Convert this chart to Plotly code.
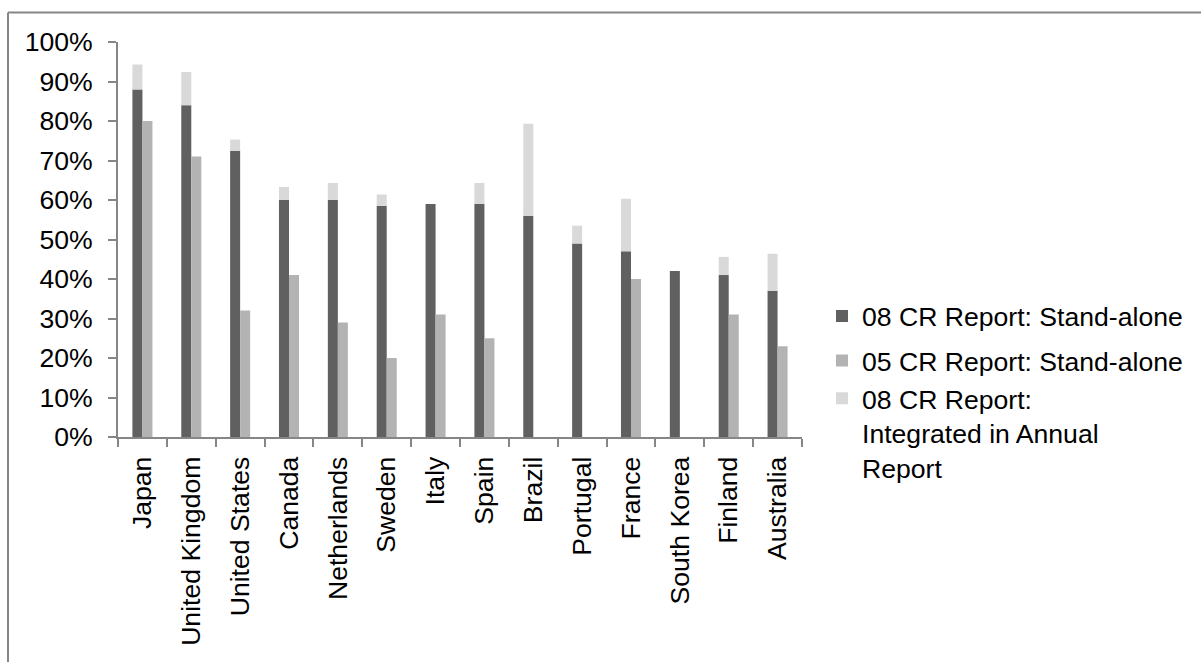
import plotly.graph_objects as go

countries = ["Japan", "United Kingdom", "United States", "Canada", "Netherlands", "Sweden",
             "Italy", "Spain", "Brazil", "Portugal", "France", "South Korea", "Finland", "Australia"]
standalone_08 = [88, 84, 72.5, 60, 60, 58.5, 59, 59, 56, 49, 47, 42, 41, 37]
standalone_05 = [80, 71, 32, 41, 29, 20, 31, 25, 0, 0, 40, 0, 31, 23]
integrated_08 = [6.3, 8.4, 2.8, 3.3, 4.3, 2.9, 0, 5.3, 23.3, 4.5, 13.3, 0, 4.6, 9.4]

DARK = "#606060"
MID = "#b3b3b3"
LIGHT = "#d9d9d9"
AXIS = "#868686"
FONT = "Liberation Sans, Arial, sans-serif"
FS = 26.6

fig = go.Figure()
fig.add_trace(go.Bar(name="08 CR Report: Stand-alone", x=countries, y=standalone_08,
                     marker=dict(color=DARK, line=dict(width=0)), offsetgroup="08",
                     legendgroup="a"))
fig.add_trace(go.Bar(name="05 CR Report: Stand-alone", x=countries, y=standalone_05,
                     marker=dict(color=MID, line=dict(width=0)), offsetgroup="05",
                     legendgroup="b"))
fig.add_trace(go.Bar(name="08 CR Report:<br>Integrated in Annual<br>Report", x=countries,
                     y=integrated_08, base=standalone_08,
                     marker=dict(color=LIGHT, line=dict(width=0)), offsetgroup="08",
                     legendgroup="b"))

W, H = 1201, 662
L, R, T, B = 118, 399, 41.5, 225
pw, ph = W - L - R, H - T - B

fig.update_layout(
    width=W, height=H,
    margin=dict(l=L, r=R, t=T, b=B, pad=0, autoexpand=False),
    barmode="group",
    bargap=0.59,
    bargroupgap=0,
    plot_bgcolor="white",
    paper_bgcolor="white",
    font=dict(family=FONT, size=FS, color="black"),
    showlegend=True,
    legend=dict(x=(822 - L) / pw, y=(437 - 292) / ph, xanchor="left", yanchor="top",
                font=dict(family=FONT, size=FS, color="black"),
                valign="top", traceorder="grouped", tracegroupgap=7, itemwidth=30,
                bgcolor="rgba(0,0,0,0)"),
    xaxis=dict(showline=True, linecolor=AXIS, linewidth=2, ticks="outside",
               tickson="boundaries", ticklen=8, tickcolor=AXIS, tickwidth=2,
               tickangle=-90, showgrid=False, zeroline=False, ticklabelstandoff=7,
               tickfont=dict(family=FONT, size=FS, color="black")),
    yaxis=dict(range=[0, 100], dtick=10, ticksuffix="%", showline=True, linecolor=AXIS,
               linewidth=2, ticks="outside", ticklen=8, tickcolor=AXIS, tickwidth=2,
               showgrid=False, zeroline=False, ticklabelstandoff=10,
               tickfont=dict(family=FONT, size=FS, color="black")),
)

# outer chart border (top and left edges visible in the reference)
bx0 = (8 - L) / pw
by1 = (H - B - 12) / ph
fig.add_shape(type="line", xref="paper", yref="paper", x0=bx0, x1=(W + 5 - L) / pw,
              y0=by1, y1=by1, line=dict(color=AXIS, width=2))
fig.add_shape(type="line", xref="paper", yref="paper", x0=bx0, x1=bx0,
              y0=by1, y1=-(B + 5) / ph, line=dict(color=AXIS, width=2))

fig.write_html("out.html", config={"displayModeBar": False},
               post_script="document.body.style.margin='0';document.body.style.overflow='hidden';")
